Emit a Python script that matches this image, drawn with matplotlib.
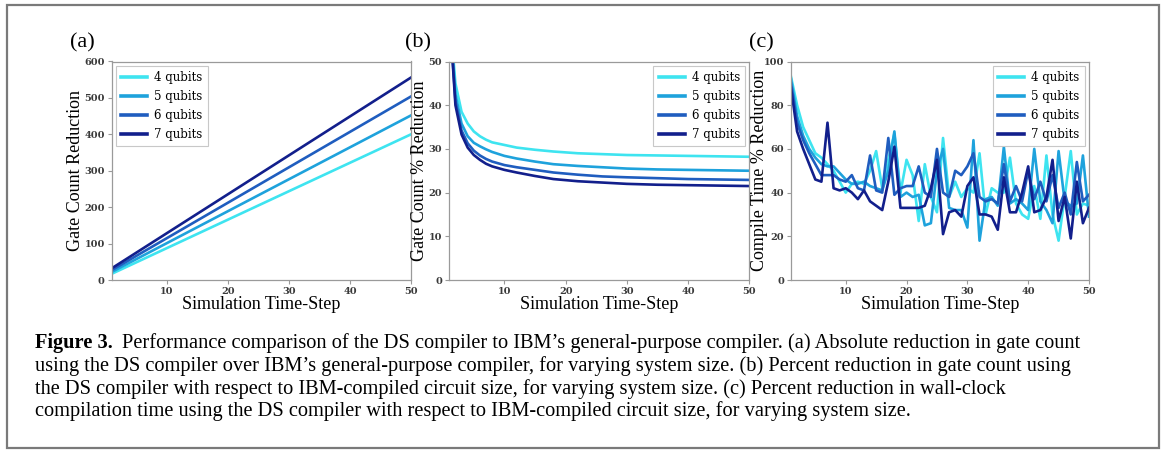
import numpy as np
import matplotlib
matplotlib.use("Agg")
import matplotlib.pyplot as plt
from matplotlib.patches import Rectangle
from matplotlib.font_manager import FontProperties

# ---------------- data ----------------
labels = ["4 qubits", "5 qubits", "6 qubits", "7 qubits"]
colors = ["#3ee4f0", "#1ea2dc", "#1f5dbf", "#121f8c"]

# (a) gate count reduction (linear, endpoints at step 1 and 50)
a_steps = [1, 50]
a_4 = [17, 400]
a_5 = [22, 452]
a_6 = [27, 504]
a_7 = [32, 556]

# (b) gate count % reduction
b_steps = [1, 2, 3, 4, 5, 6, 7, 8, 10, 12, 15, 18, 22, 26, 30, 35, 40, 45, 50]
b_4 = [62, 45, 38.5, 35.8, 34.0, 32.9, 32.1, 31.5, 30.9, 30.3, 29.8, 29.4, 29.0, 28.8, 28.6, 28.5, 28.4, 28.3, 28.2]
b_5 = [62, 42.5, 35.8, 32.9, 31.4, 30.6, 29.9, 29.3, 28.4, 27.8, 27.1, 26.5, 26.1, 25.8, 25.5, 25.3, 25.2, 25.1, 25.0]
b_6 = [62, 41, 34.2, 31.3, 29.6, 28.5, 27.7, 27.1, 26.3, 25.8, 25.2, 24.6, 24.1, 23.7, 23.5, 23.3, 23.1, 23.0, 22.9]
b_7 = [62, 40, 33.3, 30.3, 28.6, 27.5, 26.6, 26.0, 25.2, 24.6, 23.8, 23.1, 22.6, 22.3, 22.0, 21.8, 21.7, 21.6, 21.5]

# (c) compile time % reduction, steps 1..50
c_steps = list(range(1, 51))
c_4 = [93, 80, 70, 64, 58, 56, 53, 50, 45, 40, 44, 45, 44, 50, 59, 42, 55, 67, 40, 55,
       48, 27, 53, 38, 31, 65, 38, 45, 38, 42, 40, 58, 30, 42, 40, 40, 56, 35, 30, 28,
       43, 28, 57, 30, 18, 38, 59, 30, 35, 34]
c_5 = [92, 75, 66, 60, 56, 53, 52, 52, 49, 46, 44, 44, 45, 43, 42, 41, 50, 68, 38, 40,
       38, 39, 25, 26, 50, 60, 33, 32, 32, 24, 64, 18, 37, 38, 34, 61, 35, 37, 35, 32,
       60, 36, 32, 26, 59, 36, 34, 35, 57, 29]
c_6 = [90, 72, 64, 58, 53, 48, 48, 48, 46, 45, 48, 42, 41, 57, 41, 40, 65, 39, 42, 43,
       43, 52, 40, 38, 60, 40, 38, 50, 48, 52, 58, 38, 36, 37, 35, 53, 36, 43, 36, 50,
       37, 45, 36, 48, 33, 40, 30, 54, 36, 39]
c_7 = [88, 68, 60, 53, 46, 45, 72, 42, 41, 42, 40, 37, 41, 36, 34, 32, 45, 61, 33, 33,
       33, 33, 34, 42, 55, 21, 31, 32, 29, 43, 47, 30, 30, 29, 23, 47, 31, 31, 40, 52,
       31, 32, 38, 55, 27, 38, 19, 45, 26, 33]

caption_bold = "Figure 3."
caption_lines = [
    "Performance comparison of the DS compiler to IBM\u2019s general-purpose compiler. (a) Absolute reduction in gate count",
    "using the DS compiler over IBM\u2019s general-purpose compiler, for varying system size. (b) Percent reduction in gate count using",
    "the DS compiler with respect to IBM-compiled circuit size, for varying system size. (c) Percent reduction in wall-clock",
    "compilation time using the DS compiler with respect to IBM-compiled circuit size, for varying system size.",
]

# ---------------- figure ----------------
W, H = 1165, 450
fig = plt.figure(figsize=(W / 100, H / 100), dpi=100)
fig.patch.set_facecolor("white")

def fx(px):
    return px / W

def fy(py):
    return 1 - py / H

serif = "Liberation Serif"
tick_fp = FontProperties(family="DejaVu Serif", size=7.0, weight="bold")
spine_col = "#9a9a9a"

panels = [
    dict(box=(111.7, 411.0), steps=a_steps, series=[a_4, a_5, a_6, a_7], ylim=(0, 600),
         yticks=range(0, 601, 100), ylabel="Gate Count Reduction", tag="(a)",
         legloc="upper left", tagx=70, ylabx=76),
    dict(box=(449.3, 749.3), steps=b_steps, series=[b_4, b_5, b_6, b_7], ylim=(0, 50),
         yticks=range(0, 51, 10), ylabel="Gate Count % Reduction", tag="(b)",
         legloc="upper right", tagx=405, ylabx=419),
    dict(box=(791.0, 1089.0), steps=c_steps, series=[c_4, c_5, c_6, c_7], ylim=(0, 100),
         yticks=range(0, 101, 20), ylabel="Compile Time % Reduction", tag="(c)",
         legloc="upper right", tagx=749, ylabx=760),
]

top_px, bot_px = 61.5, 280.0
for p in panels:
    l, r = p["box"]
    ax = fig.add_axes([fx(l), fy(bot_px), fx(r - l), (bot_px - top_px) / H])
    for s, lab, col in zip(p["series"], labels, colors):
        ax.plot(p["steps"], s, color=col, lw=1.9, label=lab)
    ax.set_xlim(1, 50)
    ax.set_ylim(*p["ylim"])
    ax.set_xticks([10, 20, 30, 40, 50])
    ax.set_yticks(list(p["yticks"]))
    for sp in ax.spines.values():
        sp.set_color(spine_col)
        sp.set_linewidth(0.9)
    ax.tick_params(colors=spine_col, length=3, width=0.8, pad=2)
    for t in ax.get_xticklabels() + ax.get_yticklabels():
        t.set_fontproperties(tick_fp)
        t.set_color("#3a3a3a")
    ax.set_xlabel("Simulation Time-Step", family=serif, fontsize=13, labelpad=0)
    ax.set_ylabel(p["ylabel"], family=serif, fontsize=13)
    ax.yaxis.set_label_coords((p["ylabx"] - l) / (r - l), 0.5)
    ax.yaxis.label.set_va("center")
    leg = ax.legend(loc=p["legloc"], prop=dict(family="DejaVu Serif", size=8.5),
                    handlelength=2.2, handletextpad=0.6, labelspacing=0.5,
                    borderpad=0.45, fancybox=False, framealpha=1,
                    edgecolor="#c8c8c8", borderaxespad=0.35)
    for h in leg.get_lines():
        h.set_linewidth(2.6)
    leg.get_frame().set_linewidth(0.8)
    fig.text(fx(p["tagx"]), fy(43), p["tag"], family=serif, fontsize=16,
             va="center", ha="left")

# border frame
fig.add_artist(Rectangle((fx(6.5), fy(448)), fx(1159 - 6.5), (448 - 4.5) / H,
                         transform=fig.transFigure, fill=False,
                         edgecolor="#7a7a7a", linewidth=1.6))

# caption
cap_left = 35
line_y = [343, 366, 389, 411]
fs = 12.5
fig.canvas.draw()
renderer = fig.canvas.get_renderer()
probe = fig.text(0, 0, caption_lines[1], family=serif, fontsize=fs)
wpx = probe.get_window_extent(renderer).width
probe.remove()
fs = 0.97 * fs * (1105 - cap_left) / wpx

bt = fig.text(fx(cap_left), fy(line_y[0]), caption_bold, family=serif,
              fontsize=fs, weight="bold", va="center", ha="left")
bw = bt.get_window_extent(renderer).width
fig.text(fx(cap_left + bw + 9), fy(line_y[0]), caption_lines[0], family=serif,
         fontsize=fs, va="center", ha="left")
for ln, yy in zip(caption_lines[1:], line_y[1:]):
    fig.text(fx(cap_left), fy(yy), ln, family=serif, fontsize=fs,
             va="center", ha="left")

fig.savefig("out.png", dpi=100)
